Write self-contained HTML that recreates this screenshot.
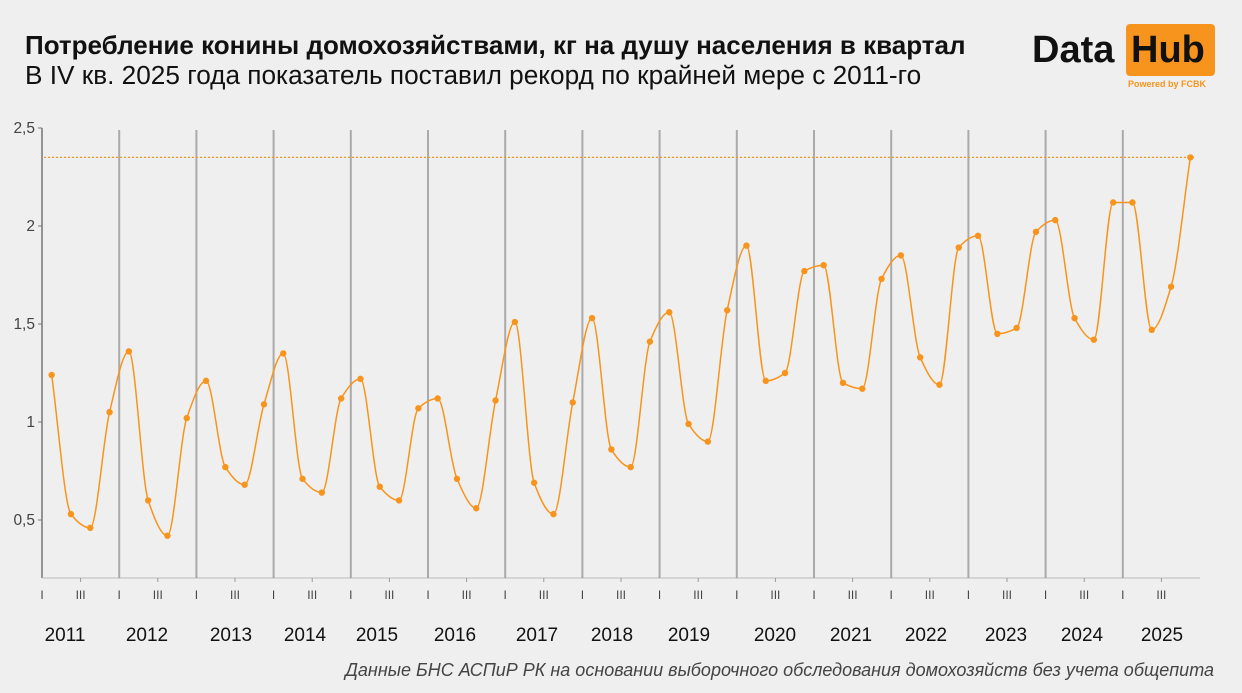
<!DOCTYPE html>
<html><head><meta charset="utf-8"><style>
html,body{margin:0;padding:0;background:#efefef;}
body{width:1242px;height:693px;overflow:hidden;position:relative;font-family:"Liberation Sans",sans-serif;}
.t1{position:absolute;left:25px;top:30px;font-size:26px;font-weight:bold;color:#111;white-space:nowrap;}
.t2{position:absolute;left:25px;top:60px;font-size:26.2px;color:#111;white-space:nowrap;}
.foot{position:absolute;right:28px;top:660px;font-size:18px;font-style:italic;color:#444;}
</style></head><body>
<div class="t1">Потребление конины домохозяйствами, кг на душу населения в квартал</div>
<div class="t2">В IV кв. 2025 года показатель поставил рекорд по крайней мере с 2011-го</div>
<div style="position:absolute;left:1032px;top:29px;font-size:38px;font-weight:bold;color:#111;">Data</div>
<div style="position:absolute;left:1126px;top:24px;width:89px;height:52px;background:#f7941d;border-radius:4px;"></div>
<div style="position:absolute;left:1131px;top:29px;font-size:38px;font-weight:bold;color:#111;">Hub</div>
<div style="position:absolute;left:1128px;top:79px;font-size:9px;font-weight:bold;color:#f7941d;">Powered by FCBK</div>
<svg id="c" width="1242" height="693" style="position:absolute;left:0;top:0" font-family="Liberation Sans, sans-serif"></svg>
<div class="foot">Данные БНС АСПиР РК на основании выборочного обследования домохозяйств без учета общепита</div>
<script>
const d=[1.24,0.53,0.46,1.05,1.36,0.60,0.42,1.02,1.21,0.77,0.68,1.09,1.35,0.71,0.64,1.12,1.22,0.67,0.60,1.07,1.12,0.71,0.56,1.11,1.51,0.69,0.53,1.10,1.53,0.86,0.77,1.41,1.56,0.99,0.90,1.57,1.90,1.21,1.25,1.77,1.80,1.20,1.17,1.73,1.85,1.33,1.19,1.89,1.95,1.45,1.48,1.97,2.03,1.53,1.42,2.12,2.12,1.47,1.69,2.35];
const Y=v=>128+(2.5-v)*196, q=19.3, X=i=>42+(i+0.5)*q;
let s='';
s+=`<line x1="42" y1="128" x2="42" y2="578" stroke="#777" stroke-width="1.5"/>`;
s+=`<line x1="42" y1="578" x2="1200" y2="578" stroke="#bbb" stroke-width="1"/>`;
[[2.5,'2,5'],[2,'2'],[1.5,'1,5'],[1,'1'],[0.5,'0,5']].forEach(([v,l])=>{s+=`<line x1="38" x2="42" y1="${Y(v)}" y2="${Y(v)}" stroke="#777"/><text x="35" y="${Y(v)+5}" font-size="15.5" fill="#444" text-anchor="end">${l}</text>`;});
for(let y=1;y<15;y++){const x=42+y*4*q;s+=`<line x1="${x}" x2="${x}" y1="130" y2="578" stroke="#999" stroke-width="2" opacity="0.8"/>`;}
for(let y=0;y<15;y++){const x=42+y*4*q;s+=`<text x="${x}" y="599" font-size="12" fill="#444" text-anchor="middle">I</text><text x="${x+2*q}" y="599" font-size="12" fill="#444" text-anchor="middle">III</text><line x1="${x+2*q}" x2="${x+2*q}" y1="578" y2="582" stroke="#999"/>`;}
const yl=[65,147,231,305,377,455,537,612,689,775,851,926,1006,1082,1162];
yl.forEach((x,i)=>s+=`<text x="${x}" y="641" font-size="19" fill="#111" text-anchor="middle">${2011+i}</text>`);
s+=`<line x1="44" x2="1195" y1="${Y(2.35)}" y2="${Y(2.35)}" stroke="#f7941d" stroke-width="1.2" stroke-dasharray="2,2"/>`;
const n=d.length, ys=d.map(Y), m=[], dl=[];
for(let i=0;i<n-1;i++)dl.push((ys[i+1]-ys[i])/q);
m[0]=dl[0];m[n-1]=dl[n-2];
for(let i=1;i<n-1;i++){ if(dl[i-1]*dl[i]<=0)m[i]=0; else { const a=dl[i-1],b=dl[i]; m[i]=2/((1/a)+(1/b)); } }
let p=`M${X(0)},${ys[0]}`;
for(let i=0;i<n-1;i++){const h=q/3;p+=` C${X(i)+h},${ys[i]+m[i]*h} ${X(i+1)-h},${ys[i+1]-m[i+1]*h} ${X(i+1)},${ys[i+1]}`;}
s+=`<path d="${p}" fill="none" stroke="#f7941d" stroke-width="1.5"/>`;
d.forEach((v,i)=>s+=`<circle cx="${X(i)}" cy="${Y(v)}" r="3.2" fill="#f7941d"/>`);
document.getElementById('c').innerHTML=s;
</script>
</body></html>
